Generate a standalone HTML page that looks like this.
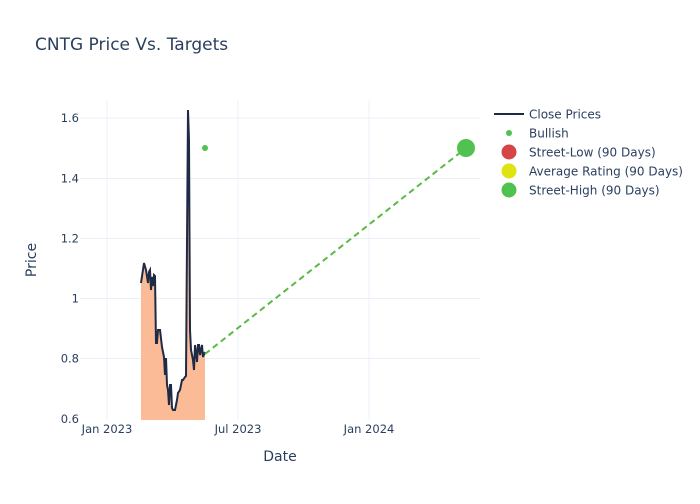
<!DOCTYPE html>
<html><head><meta charset="utf-8"><style>body{margin:0;background:#fff;font-family:"DejaVu Sans",sans-serif}</style></head>
<body>
<svg width="700" height="500" xmlns="http://www.w3.org/2000/svg" font-family="DejaVu Sans, sans-serif">
<rect width="700" height="500" fill="#fff"/>
<g stroke="#ebf0f8" stroke-width="1">
<line x1="107" y1="100" x2="107" y2="420"/><line x1="238" y1="100" x2="238" y2="420"/><line x1="369" y1="100" x2="369" y2="420"/>
<line x1="80" y1="118" x2="480" y2="118"/><line x1="80" y1="178.5" x2="480" y2="178.5"/><line x1="80" y1="238.5" x2="480" y2="238.5"/><line x1="80" y1="298.5" x2="480" y2="298.5"/><line x1="80" y1="358.5" x2="480" y2="358.5"/>
</g>
<polygon fill="#fbb48c" fill-opacity="0.9" points="141,420 141,283 144,263 146,270 148,283 149,272 150,270 151,290 152,277 153,286 154,275 155,276 156,343 157,343 158,330 160,330 162,347 164,357 165,375 166,358 167,385 168,390 169,405 170,385 171,385 172,408 173,410 175,410 177,400 178,393 180,390 182,380 183,380 185,377 186,376 188,110 189,140 190,330 191,350 193,360 194,370 195,345 196,352 197,362 198,345 199,345 200,355 201,350 202,345 203,357 205,352 205,420"/>
<polyline fill="none" stroke="#1f2a44" stroke-width="2" points="141,283 144,263 146,270 148,283 149,272 150,270 151,290 152,277 153,286 154,275 155,276 156,343 157,343 158,330 160,330 162,347 164,357 165,375 166,358 167,385 168,390 169,405 170,385 171,385 172,408 173,410 175,410 177,400 178,393 180,390 182,380 183,380 185,377 186,376 188,110 189,140 190,330 191,350 193,360 194,370 195,345 196,352 197,362 198,345 199,345 200,355 201,350 202,345 203,357 205,352"/>
<line x1="205" y1="354" x2="466" y2="148" stroke="#5cb944" stroke-width="2" stroke-dasharray="6,4"/>
<circle cx="205" cy="148" r="3" fill="#4fc24f"/>
<circle cx="466" cy="148" r="9" fill="#4fc24f"/>
<g fill="#2a3f5f" font-size="11.5">
<text x="107" y="433" text-anchor="middle">Jan 2023</text><text x="238" y="433" text-anchor="middle">Jul 2023</text><text x="369" y="433" text-anchor="middle">Jan 2024</text>
<g text-anchor="end"><text x="79" y="122">1.6</text><text x="79" y="182.5">1.4</text><text x="79" y="242.5">1.2</text><text x="79" y="302.5">1</text><text x="79" y="362.5">0.8</text><text x="79" y="423">0.6</text></g>
<text x="280" y="461" text-anchor="middle" font-size="14">Date</text>
<text transform="translate(36,260) rotate(-90)" text-anchor="middle" font-size="14">Price</text>
<text x="35" y="50" font-size="17">CNTG Price Vs. Targets</text>
<g font-size="12">
<line x1="494" y1="114" x2="524" y2="114" stroke="#1f2a44" stroke-width="2"/><text x="529" y="118.5">Close Prices</text>
<circle cx="509" cy="133" r="3" fill="#4fc24f"/><text x="529" y="137.5">Bullish</text>
<circle cx="509" cy="152" r="7.5" fill="#d64545"/><text x="529" y="156.5">Street-Low (90 Days)</text>
<circle cx="509" cy="171" r="7.5" fill="#dfe30f"/><text x="529" y="175.5">Average Rating (90 Days)</text>
<circle cx="509" cy="190" r="7.5" fill="#4fc24f"/><text x="529" y="194.5">Street-High (90 Days)</text>
</g>
</g>
</svg>
</body></html>
